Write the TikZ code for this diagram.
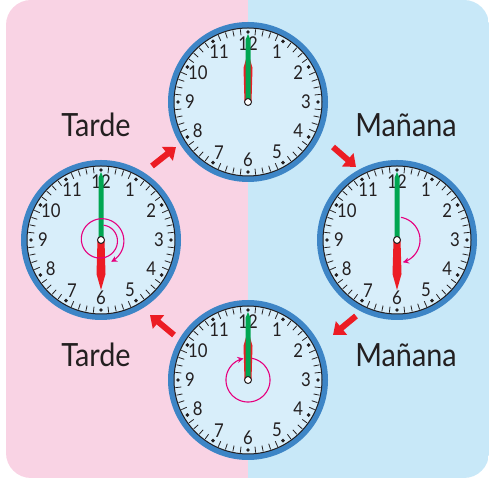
\documentclass[tikz,border=0pt]{standalone}
\usepackage{fontspec}
\setmainfont{Lato}
\newfontfamily\labelfont[FakeStretch=0.9]{Lato}
\newfontfamily\digitfont[FakeStretch=0.88]{Lato}
\usetikzlibrary{arrows.meta}

\definecolor{bgpink}{HTML}{F9D3E4}
\definecolor{bgblue}{HTML}{C8E8F8}
\definecolor{face}{HTML}{D8EEFA}
\definecolor{rimblue}{HTML}{3D85C6}
\definecolor{handgreen}{HTML}{00A651}
\definecolor{handred}{HTML}{EC1C24}
\definecolor{loopmag}{HTML}{E6007E}
\definecolor{ink}{HTML}{231F20}

\begin{document}
\begin{tikzpicture}[x = 1pt, y = 1pt,
	daylabel/.style = {anchor = base, text = ink, font = \labelfont\fontsize{32}{32}\selectfont},
	hournum/.style = {text = ink, inner sep = 0pt, font = \digitfont\fontsize{19}{19}\selectfont},
	turnarrow/.style = {draw = handred, line width = 6pt, -{Triangle[length = 11pt, width = 17pt]}},
	loop/.style = {draw = loopmag, line width = 1.1pt, -{Stealth[length = 6pt, width = 6pt]}}]

	\useasboundingbox (0, 0) rectangle (489, 478);

	% The background

	\begin{scope}
		\clip [rounded corners = 25pt] (6, 0) rectangle (489, 478);
		\fill [bgpink] (0, 0) rectangle (248, 478);
		\fill [bgblue] (248, 0) rectangle (489, 478);
	\end{scope}

	% The clocks

	\foreach \c / \cx / \cy / \hr in {t/248/376/0, l/101/238/180, r/397/238/180, b/248/98/0}
	{
		\begin{scope}[shift = {(\cx, \cy)}]

			\fill [face] (0, 0) circle (74);
			\draw [rimblue, line width = 6pt] (0, 0) circle (77);
			\draw [ink, line width = 1pt] (0, 0) circle (74);

			% Minute ticks and hour dots

			\foreach \h in {0, ..., 11}
			{
				\foreach \k in {1, ..., 4}
					\draw [ink, line width = 0.8pt] (\h * 30 + \k * 6 : 67) -- (\h * 30 + \k * 6 : 73);
				\fill [ink] (\h * 30 : 70) circle (1.9);
			}

			\foreach \h in {1, ..., 12}
				\node [hournum] (\c num\h) at (90 - \h * 30 : 58) {\h};

			% The hands

			\fill [handred, rotate = \hr] (-3.5, 0) -- (-4.5, 34) -- (0, 50) -- (4.5, 34) -- (3.5, 0) -- cycle;
			\fill [handgreen] (-2.5, 0) -- (-2.5, 62) -- (0, 68) -- (2.5, 62) -- (2.5, 0) -- cycle;
			\draw [ink, fill = white, line width = 1pt] (0, 0) circle (3.5);

		\end{scope}
	}

	% Turns of the minute hand

	\begin{scope}[shift = {(101, 238)}]
		\draw [loop] plot [domain = 80 : -425, samples = 120, smooth] (\x : {15 + 9 * (80 - \x) / 505});
	\end{scope}

	\draw [loop, shift = {(397, 238)}] plot [domain = 80 : -75, samples = 60, smooth] (\x : 23);

	\draw [loop, shift = {(248, 98)}] plot [domain = 80 : -258, samples = 100, smooth] (\x : 22);

	% Labels

	\node [daylabel] (tardeA) at (96, 341) {Tarde};
	\node [daylabel] (mananaA) at (406, 341) {Mañana};
	\node [daylabel] (tardeB) at (96, 111) {Tarde};
	\node [daylabel] (mananaB) at (406, 111) {Mañana};

	% The red arrows between clocks

	\coordinate (tlTail) at (152, 312);
	\coordinate (tlTip) at (176, 331);
	\coordinate (trTail) at (333, 331);
	\coordinate (trTip) at (356, 311);
	\coordinate (brTail) at (356, 162);
	\coordinate (brTip) at (333, 143);
	\coordinate (blTail) at (174, 143);
	\coordinate (blTip) at (150, 163);

	\draw [turnarrow] (tlTail) -- (tlTip);
	\draw [turnarrow] (trTail) -- (trTip);
	\draw [turnarrow] (brTail) -- (brTip);
	\draw [turnarrow] (blTail) -- (blTip);

\end{tikzpicture}
\end{document}
